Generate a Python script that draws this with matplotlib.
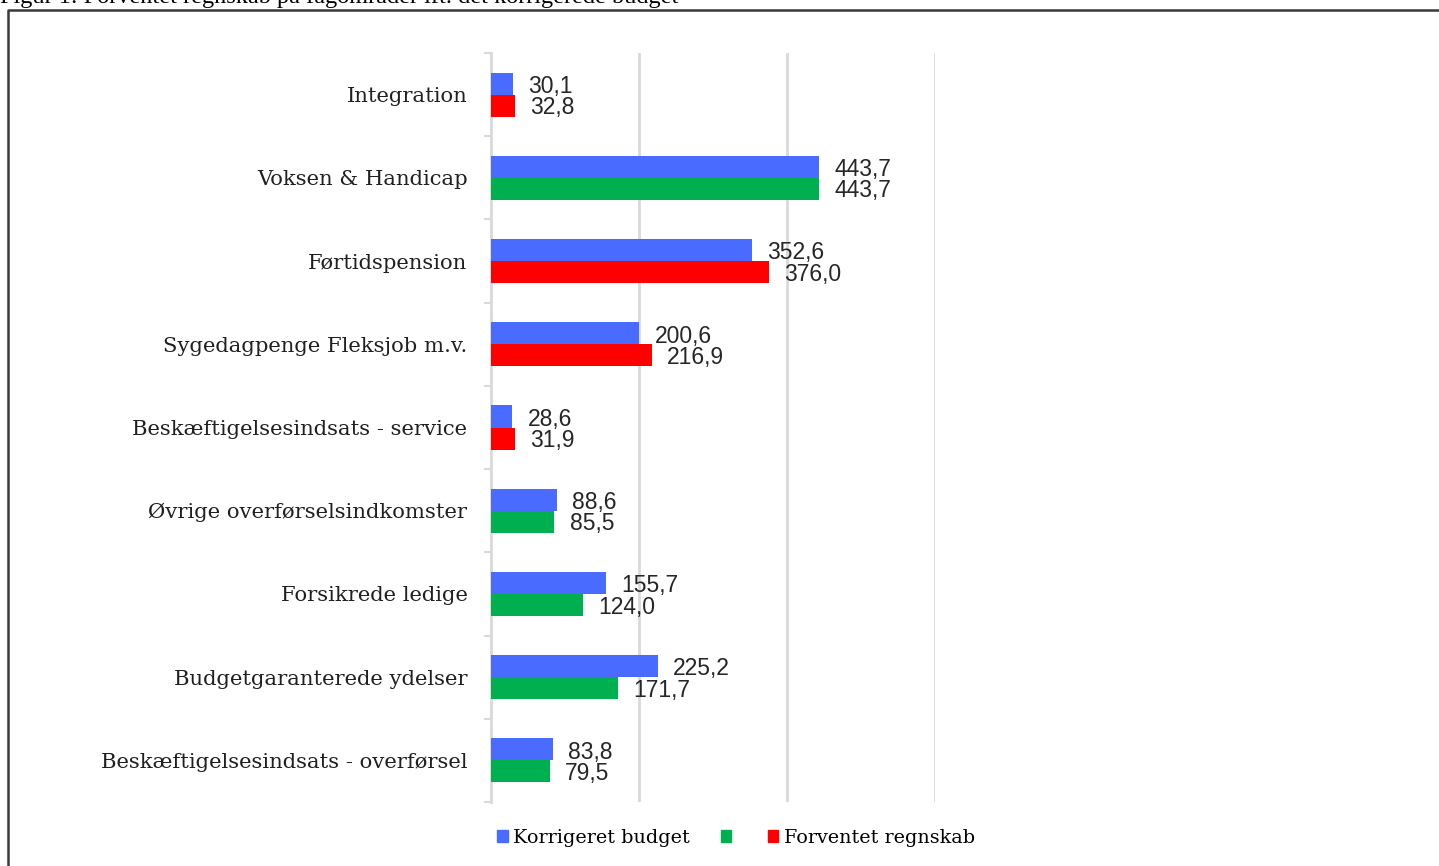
import numpy as np
import matplotlib
matplotlib.use("Agg")
import matplotlib.pyplot as plt
from matplotlib.lines import Line2D
from matplotlib.patches import Patch

categories = [
    "Integration",
    "Voksen & Handicap",
    "Førtidspension",
    "Sygedagpenge Fleksjob m.v.",
    "Beskæftigelsesindsats - service",
    "Øvrige overførselsindkomster",
    "Forsikrede ledige",
    "Budgetgaranterede ydelser",
    "Beskæftigelsesindsats - overførsel",
]
budget = [30.1, 443.7, 352.6, 200.6, 28.6, 88.6, 155.7, 225.2, 83.8]
forventet = [32.8, 443.7, 376.0, 216.9, 31.9, 85.5, 124.0, 171.7, 79.5]

BLUE = "#4a6bff"
GREEN = "#00b050"
RED = "#ff0000"
GRID = "#d9d9d9"

fig = plt.figure(figsize=(14.39, 8.66), dpi=100)
ax = fig.add_axes([491 / 1439, 1 - 802 / 866, 444 / 1439, 749 / 866])

y = np.arange(len(categories))
h = 0.265
colors2 = [RED if f > b else GREEN for b, f in zip(budget, forventet)]
ax.barh(y - h / 2, budget, height=h, color=BLUE, zorder=3)
ax.barh(y + h / 2, forventet, height=h, color=colors2, zorder=3)

lab_font = dict(family="Liberation Sans", fontsize=16.5, color="#262626")
for i, (b, f) in enumerate(zip(budget, forventet)):
    ax.annotate(f"{b:.1f}".replace(".", ","), (b, i - h / 2), xytext=(11, -2),
                textcoords="offset points", va="center", ha="left", **lab_font)
    ax.annotate(f"{f:.1f}".replace(".", ","), (f, i + h / 2), xytext=(11, -1.5),
                textcoords="offset points", va="center", ha="left", **lab_font)

ax.set_xlim(0, 600)
ax.set_ylim(len(categories) - 0.5, -0.5)
ax.set_xticks([200, 400, 600])
ax.xaxis.set_tick_params(length=0, labelbottom=False)
ax.grid(axis="x", color=GRID, linewidth=2, zorder=0)

ax.set_yticks(y)
ax.set_yticklabels(categories, family="DejaVu Serif", fontsize=15.2, color="#202020")
ax.set_yticks(np.arange(-0.5, len(categories)), minor=True)
ax.tick_params(axis="y", which="major", length=0, pad=17)
ax.tick_params(axis="y", which="minor", length=5, width=1.5, color=GRID)

for s in ["top", "right", "bottom"]:
    ax.spines[s].set_visible(False)
ax.spines["left"].set_color(GRID)
ax.spines["left"].set_linewidth(2)

handles = [Patch(color=BLUE), Patch(color=GREEN), Patch(color=RED)]
labels = ["Korrigeret budget", "", "Forventet regnskab"]
fig.legend(handles, labels, loc="center", bbox_to_anchor=(736 / 1439, 1 - 838 / 866),
           ncol=3, frameon=False, handlelength=0.55, handleheight=0.55,
           handletextpad=0.3, columnspacing=1.6,
           prop={"family": "DejaVu Serif", "size": 13.8})

# frame around the figure (cut at right and bottom)
fig.add_artist(Line2D([8 / 1439, 8 / 1439, 1], [0, 1 - 10 / 866, 1 - 10 / 866],
                      transform=fig.transFigure, color="#3a3a3a", linewidth=1.8))
fig.text(0.0, 1 - 3 / 866, "Figur 1: Forventet regnskab på fagområder ift. det korrigerede budget",
         family="Liberation Serif", fontsize=17.5, va="baseline", ha="left", color="black")

fig.savefig("out.png", dpi=100, facecolor="white")
